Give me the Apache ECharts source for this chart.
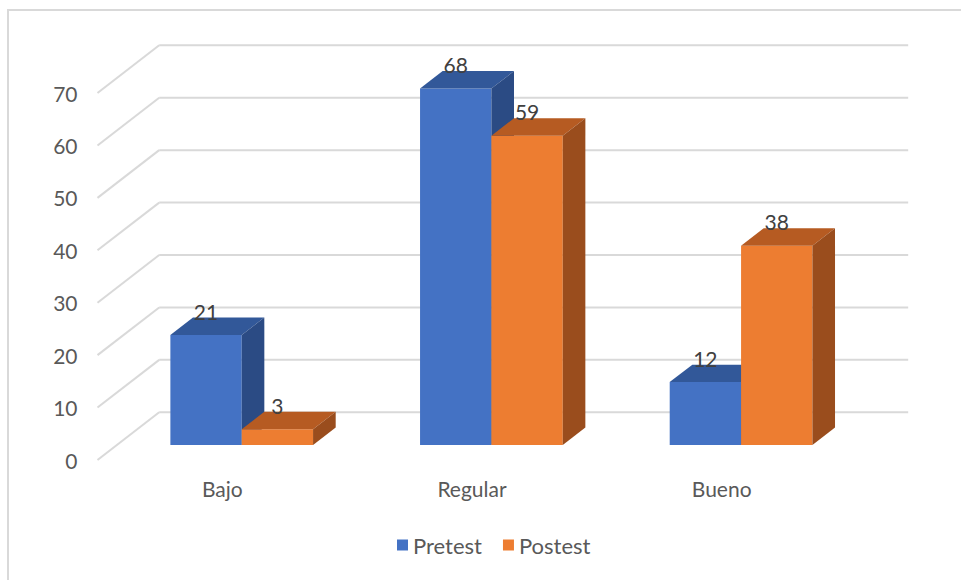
<!DOCTYPE html>
<html>
<head>
<meta charset="utf-8">
<script src="https://cdn.jsdelivr.net/npm/echarts@6/dist/echarts.min.js"></script>
<style>
  html, body { margin: 0; padding: 0; background: #ffffff; }
  #chart { width: 961px; height: 580px; }
</style>
</head>
<body>
<div id="chart"></div>
<script>
// ---- data ----
const categories = ['Bajo', 'Regular', 'Bueno'];
const pretest = [21, 68, 12];
const postest = [3, 59, 38];
const seriesNames = ['Pretest', 'Postest'];
const yTicks = [0, 10, 20, 30, 40, 50, 60, 70];

// ---- style / geometry constants ----
const FONT = 'Lato, "Open Sans", sans-serif';
const FRONT_DX = 19.4, FRONT_DY = -15;   // floor front edge -> bar front plane
const DEPTH_DX = 22.6, DEPTH_DY = -17.4; // bar depth
const WALL_DX = 61.7, WALL_DY = -47.7;   // floor front edge -> back wall
const BAR_RATIO = 0.2858;
const palette = [
  { front: '#4472C4', top: '#325899', side: '#2B4B84' },
  { front: '#ED7D31', top: '#B65B22', side: '#9A4D1D' }
];

function makeBarRenderer(idx) {
  return function (params, api) {
    const cat = api.value(0);
    const v = api.value(1);
    const base = api.coord([cat, 0]);
    const topP = api.coord([cat, v]);
    const bw = api.size([1, 0])[0] * BAR_RATIO;
    const x0 = base[0] + (idx === 0 ? -bw : 0) + FRONT_DX;
    const x1 = x0 + bw;
    const yb = base[1] + FRONT_DY;
    const yt = topP[1] + FRONT_DY;
    const c = palette[idx];
    return {
      type: 'group',
      children: [
        { type: 'rect', shape: { x: x0, y: yt, width: bw, height: yb - yt },
          style: { fill: c.front } },
        { type: 'polygon', shape: { points: [[x0, yt], [x1, yt], [x1 + DEPTH_DX, yt + DEPTH_DY], [x0 + DEPTH_DX, yt + DEPTH_DY]] },
          style: { fill: c.top } },
        { type: 'polygon', shape: { points: [[x1, yt], [x1 + DEPTH_DX, yt + DEPTH_DY], [x1 + DEPTH_DX, yb + DEPTH_DY], [x1, yb]] },
          style: { fill: c.side } },
        { type: 'text', z2: 10,
          style: { text: String(v), x: (x0 + x1) / 2, y: yt + DEPTH_DY + 4,
                   align: 'center', verticalAlign: 'bottom',
                   fill: '#404040', font: '21px ' + FONT } }
      ]
    };
  };
}

function renderGrid(params, api) {
  const p = api.coord([0, api.value(1)]);
  const cs = params.coordSys;
  const left = cs.x, right = cs.x + cs.width, y = p[1];
  const st = { stroke: '#D9D9D9', lineWidth: 2, fill: null };
  return {
    type: 'group',
    children: [
      { type: 'line', shape: { x1: left, y1: y, x2: left + WALL_DX, y2: y + WALL_DY }, style: st },
      { type: 'line', shape: { x1: left + WALL_DX, y1: y + WALL_DY, x2: right + WALL_DX, y2: y + WALL_DY }, style: st }
    ]
  };
}

const chart = echarts.init(document.getElementById('chart'), null, { renderer: 'svg' });
chart.setOption({
  backgroundColor: '#ffffff',
  animation: false,
  graphic: [{
    type: 'rect', silent: true, z: -10,
    shape: { x: 8, y: 10, width: 1200, height: 1200 },
    style: { fill: 'none', stroke: '#D9D9D9', lineWidth: 2 }
  }],
  grid: { left: 97.5, right: 114.5, top: 93, bottom: 120, containLabel: false },
  legend: {
    data: seriesNames,
    bottom: 19, left: 392,
    icon: 'rect', itemWidth: 11, itemHeight: 11, itemGap: 21,
    textStyle: { color: '#595959', fontSize: 22, fontFamily: FONT }
  },
  xAxis: {
    type: 'category',
    data: categories,
    axisLine: { show: false },
    axisTick: { show: false },
    splitLine: { show: false },
    axisLabel: { color: '#595959', fontSize: 21, fontFamily: FONT, margin: 18 }
  },
  yAxis: {
    type: 'value',
    min: 0, max: 70, interval: 10,
    axisLine: { show: false },
    axisTick: { show: false },
    splitLine: { show: false },
    axisLabel: { color: '#595959', fontSize: 21, fontFamily: FONT, margin: 20 }
  },
  series: [
    { type: 'custom', name: '_grid', z: 1, silent: true,
      renderItem: renderGrid,
      data: yTicks.map(function (v) { return [0, v]; }) },
    { type: 'custom', name: seriesNames[0], z: 2,
      itemStyle: { color: palette[0].front },
      renderItem: makeBarRenderer(0),
      data: pretest.map(function (v, i) { return [i, v]; }) },
    { type: 'custom', name: seriesNames[1], z: 3,
      itemStyle: { color: palette[1].front },
      renderItem: makeBarRenderer(1),
      data: postest.map(function (v, i) { return [i, v]; }) }
  ]
});
</script>
</body>
</html>
